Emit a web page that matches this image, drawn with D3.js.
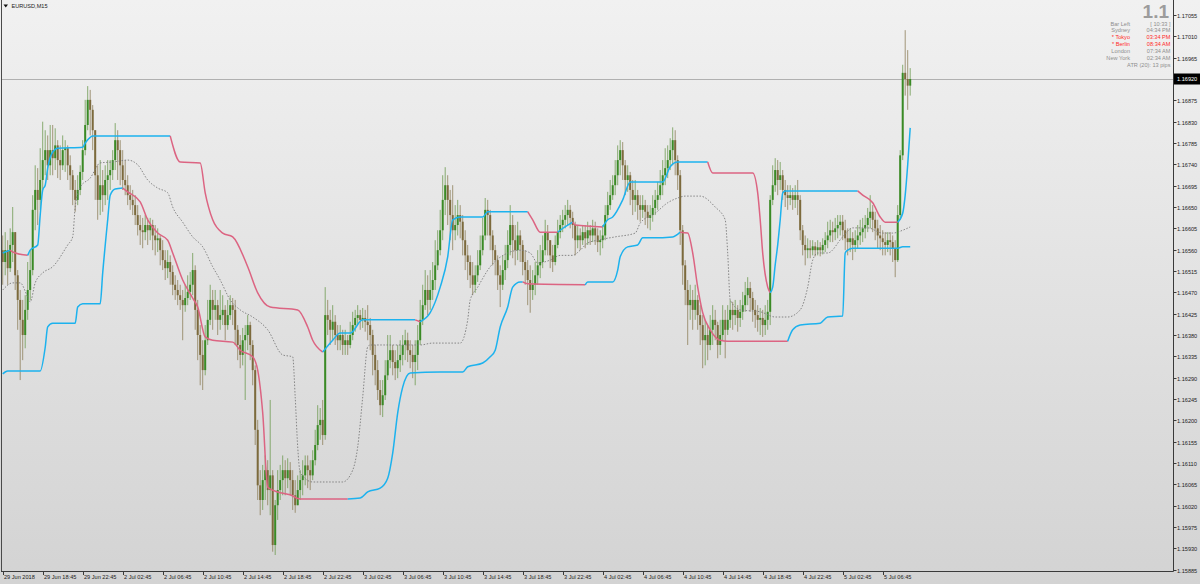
<!DOCTYPE html>
<html><head><meta charset="utf-8">
<script src="https://cdn.jsdelivr.net/npm/d3@7"></script>
<style>html,body{margin:0;padding:0;overflow:hidden;background:#e4e4e4}svg{display:block}text{font-family:"Liberation Sans",Arial,sans-serif}</style>
</head><body><svg id="c" width="1200" height="584"></svg>
<script>
// ---------------- data ----------------
const symbolTitle = "EURUSD,M15";
const firstOpen = 1.16559;
const closes = [
1.16534,1.16559,1.16521,1.16570,1.16597,1.16506,1.16454,1.16412,1.16380,1.16433,
1.16475,1.16517,1.16644,1.16686,1.16665,1.16707,1.16749,1.16770,1.16738,1.16770,
1.16753,1.16780,1.16749,1.16738,1.16770,1.16774,1.16738,1.16717,1.16686,1.16665,
1.16686,1.16724,1.16770,1.16823,1.16876,1.16855,1.16812,1.16717,1.16665,1.16696,
1.16675,1.16707,1.16717,1.16728,1.16749,1.16791,1.16770,1.16738,1.16707,1.16696,
1.16675,1.16665,1.16654,1.16633,1.16612,1.16601,1.16597,1.16612,1.16601,1.16612,
1.16590,1.16580,1.16584,1.16559,1.16538,1.16521,1.16534,1.16513,1.16486,1.16475,
1.16464,1.16454,1.16443,1.16458,1.16471,1.16486,1.16517,1.16433,1.16380,1.16338,
1.16306,1.16369,1.16412,1.16454,1.16433,1.16443,1.16412,1.16422,1.16433,1.16401,
1.16422,1.16443,1.16433,1.16391,1.16359,1.16338,1.16369,1.16380,1.16401,1.16359,
1.16306,1.16180,1.16063,1.16032,1.16074,1.16095,1.16053,1.16084,1.15937,1.16021,
1.16053,1.16074,1.16095,1.16078,1.16095,1.16074,1.16042,1.16021,1.16053,1.16074,
1.16084,1.16105,1.16095,1.16084,1.16116,1.16148,1.16190,1.16201,1.16169,1.16422,
1.16412,1.16391,1.16408,1.16380,1.16369,1.16380,1.16359,1.16369,1.16359,1.16380,
1.16401,1.16416,1.16422,1.16412,1.16416,1.16408,1.16401,1.16380,1.16338,1.16306,
1.16264,1.16232,1.16253,1.16295,1.16327,1.16348,1.16323,1.16310,1.16327,1.16338,
1.16359,1.16369,1.16348,1.16338,1.16323,1.16338,1.16369,1.16412,1.16443,1.16475,
1.16454,1.16475,1.16496,1.16527,1.16559,1.16601,1.16665,1.16696,1.16665,1.16633,
1.16601,1.16612,1.16633,1.16619,1.16580,1.16548,1.16534,1.16506,1.16486,1.16506,
1.16527,1.16559,1.16590,1.16644,1.16633,1.16590,1.16559,1.16538,1.16506,1.16486,
1.16517,1.16538,1.16570,1.16612,1.16580,1.16559,1.16590,1.16570,1.16534,1.16517,
1.16496,1.16475,1.16486,1.16506,1.16527,1.16534,1.16559,1.16597,1.16580,1.16548,
1.16534,1.16570,1.16597,1.16612,1.16623,1.16633,1.16644,1.16627,1.16612,1.16580,
1.16590,1.16580,1.16597,1.16584,1.16601,1.16590,1.16605,1.16590,1.16576,1.16580,
1.16590,1.16633,1.16654,1.16675,1.16696,1.16717,1.16749,1.16770,1.16738,1.16707,
1.16717,1.16686,1.16665,1.16675,1.16654,1.16644,1.16654,1.16640,1.16627,1.16633,
1.16648,1.16665,1.16675,1.16696,1.16717,1.16732,1.16749,1.16770,1.16791,1.16749,
1.16717,1.16601,1.16527,1.16475,1.16443,1.16454,1.16433,1.16454,1.16422,1.16401,
1.16369,1.16380,1.16359,1.16391,1.16412,1.16401,1.16359,1.16380,1.16412,1.16391,
1.16412,1.16433,1.16422,1.16433,1.16416,1.16429,1.16443,1.16464,1.16479,1.16458,
1.16433,1.16422,1.16412,1.16416,1.16401,1.16412,1.16429,1.16665,1.16696,1.16728,
1.16707,1.16717,1.16686,1.16675,1.16669,1.16675,1.16665,1.16675,1.16665,1.16601,
1.16570,1.16559,1.16563,1.16559,1.16567,1.16559,1.16565,1.16559,1.16570,1.16580,
1.16590,1.16601,1.16597,1.16605,1.16612,1.16619,1.16601,1.16584,1.16576,1.16584,
1.16570,1.16580,1.16590,1.16597,1.16605,1.16612,1.16627,1.16640,1.16623,1.16605,
1.16590,1.16584,1.16576,1.16570,1.16580,1.16576,1.16563,1.16538,1.16633,1.16759,
1.16933,1.16920,1.16906,1.16920];
const highs = [
1.16590,1.16597,1.16580,1.16605,1.16650,1.16597,1.16517,1.16475,1.16454,1.16464,
1.16534,1.16559,1.16675,1.16738,1.16732,1.16774,1.16830,1.16812,1.16801,1.16823,
1.16823,1.16816,1.16791,1.16780,1.16801,1.16791,1.16780,1.16759,1.16728,1.16707,
1.16717,1.16738,1.16791,1.16876,1.16905,1.16897,1.16865,1.16812,1.16738,1.16749,
1.16728,1.16738,1.16749,1.16749,1.16770,1.16827,1.16812,1.16791,1.16770,1.16749,
1.16717,1.16696,1.16686,1.16675,1.16654,1.16633,1.16627,1.16633,1.16627,1.16627,
1.16623,1.16612,1.16605,1.16590,1.16580,1.16559,1.16559,1.16548,1.16527,1.16506,
1.16496,1.16486,1.16475,1.16486,1.16506,1.16513,1.16553,1.16527,1.16454,1.16401,
1.16369,1.16401,1.16454,1.16486,1.16475,1.16475,1.16454,1.16475,1.16464,1.16443,
1.16454,1.16464,1.16458,1.16454,1.16401,1.16380,1.16395,1.16401,1.16422,1.16408,
1.16369,1.16316,1.16201,1.16095,1.16106,1.16126,1.16116,1.16243,1.16095,1.16032,
1.16095,1.16106,1.16126,1.16116,1.16120,1.16112,1.16095,1.16074,1.16084,1.16095,
1.16116,1.16126,1.16126,1.16116,1.16137,1.16180,1.16232,1.16226,1.16243,1.16481,
1.16454,1.16433,1.16443,1.16422,1.16401,1.16401,1.16391,1.16391,1.16380,1.16408,
1.16429,1.16433,1.16443,1.16433,1.16437,1.16433,1.16443,1.16416,1.16391,1.16359,
1.16327,1.16285,1.16285,1.16327,1.16380,1.16380,1.16359,1.16348,1.16359,1.16369,
1.16380,1.16391,1.16385,1.16369,1.16359,1.16369,1.16401,1.16454,1.16486,1.16517,
1.16506,1.16517,1.16534,1.16580,1.16601,1.16644,1.16717,1.16734,1.16717,1.16686,
1.16696,1.16654,1.16665,1.16654,1.16633,1.16601,1.16570,1.16548,1.16534,1.16527,
1.16559,1.16590,1.16627,1.16669,1.16665,1.16644,1.16601,1.16570,1.16548,1.16527,
1.16548,1.16570,1.16601,1.16654,1.16633,1.16612,1.16619,1.16601,1.16580,1.16559,
1.16538,1.16527,1.16517,1.16534,1.16559,1.16570,1.16590,1.16623,1.16612,1.16580,
1.16570,1.16590,1.16623,1.16633,1.16644,1.16654,1.16665,1.16654,1.16640,1.16619,
1.16612,1.16605,1.16612,1.16612,1.16619,1.16612,1.16623,1.16619,1.16605,1.16601,
1.16612,1.16654,1.16682,1.16707,1.16717,1.16749,1.16780,1.16791,1.16787,1.16749,
1.16738,1.16724,1.16707,1.16707,1.16686,1.16675,1.16675,1.16665,1.16654,1.16654,
1.16675,1.16686,1.16703,1.16728,1.16749,1.16774,1.16780,1.16795,1.16818,1.16812,
1.16759,1.16728,1.16612,1.16538,1.16496,1.16486,1.16475,1.16486,1.16464,1.16443,
1.16422,1.16412,1.16401,1.16422,1.16443,1.16433,1.16408,1.16412,1.16443,1.16433,
1.16443,1.16454,1.16450,1.16454,1.16443,1.16454,1.16471,1.16492,1.16502,1.16492,
1.16471,1.16454,1.16443,1.16437,1.16433,1.16443,1.16454,1.16675,1.16738,1.16753,
1.16749,1.16745,1.16728,1.16707,1.16696,1.16696,1.16690,1.16696,1.16707,1.16675,
1.16612,1.16590,1.16584,1.16580,1.16580,1.16576,1.16580,1.16576,1.16584,1.16597,
1.16619,1.16623,1.16619,1.16627,1.16633,1.16633,1.16633,1.16623,1.16605,1.16605,
1.16597,1.16601,1.16612,1.16623,1.16627,1.16633,1.16648,1.16675,1.16654,1.16640,
1.16623,1.16612,1.16601,1.16597,1.16597,1.16597,1.16590,1.16580,1.16654,1.16770,
1.16950,1.17023,1.16981,1.16943];
const lows = [
1.16486,1.16506,1.16486,1.16513,1.16534,1.16475,1.16391,1.16285,1.16327,1.16352,
1.16412,1.16454,1.16506,1.16601,1.16612,1.16644,1.16686,1.16717,1.16707,1.16717,
1.16717,1.16728,1.16711,1.16707,1.16728,1.16724,1.16707,1.16686,1.16654,1.16640,
1.16654,1.16675,1.16707,1.16759,1.16812,1.16801,1.16770,1.16665,1.16623,1.16633,
1.16640,1.16654,1.16665,1.16686,1.16707,1.16728,1.16707,1.16696,1.16686,1.16675,
1.16654,1.16644,1.16633,1.16612,1.16590,1.16570,1.16563,1.16580,1.16570,1.16580,
1.16559,1.16548,1.16555,1.16527,1.16517,1.16496,1.16500,1.16486,1.16464,1.16454,
1.16443,1.16433,1.16369,1.16429,1.16443,1.16454,1.16464,1.16391,1.16327,1.16274,
1.16264,1.16295,1.16359,1.16401,1.16391,1.16412,1.16380,1.16391,1.16401,1.16369,
1.16391,1.16412,1.16401,1.16359,1.16327,1.16310,1.16316,1.16243,1.16348,1.16327,
1.16274,1.16148,1.16032,1.16000,1.16011,1.16032,1.16021,1.16000,1.15923,1.15916,
1.15990,1.16032,1.16042,1.16042,1.16057,1.16042,1.16011,1.16005,1.16021,1.16032,
1.16042,1.16063,1.16057,1.16053,1.16074,1.16105,1.16137,1.16159,1.16148,1.16159,
1.16380,1.16359,1.16369,1.16359,1.16348,1.16348,1.16338,1.16338,1.16338,1.16352,
1.16369,1.16387,1.16401,1.16391,1.16395,1.16387,1.16369,1.16348,1.16295,1.16274,
1.16243,1.16211,1.16207,1.16243,1.16285,1.16310,1.16295,1.16285,1.16289,1.16302,
1.16316,1.16327,1.16323,1.16310,1.16289,1.16274,1.16306,1.16359,1.16401,1.16433,
1.16422,1.16433,1.16454,1.16475,1.16517,1.16548,1.16580,1.16633,1.16612,1.16580,
1.16559,1.16580,1.16590,1.16584,1.16548,1.16517,1.16496,1.16479,1.16464,1.16469,
1.16492,1.16517,1.16548,1.16580,1.16590,1.16559,1.16527,1.16506,1.16475,1.16439,
1.16475,1.16496,1.16521,1.16548,1.16542,1.16527,1.16538,1.16534,1.16506,1.16486,
1.16443,1.16427,1.16454,1.16464,1.16486,1.16500,1.16521,1.16548,1.16548,1.16521,
1.16513,1.16527,1.16563,1.16584,1.16597,1.16605,1.16612,1.16605,1.16584,1.16548,
1.16563,1.16559,1.16570,1.16563,1.16570,1.16570,1.16576,1.16570,1.16555,1.16548,
1.16563,1.16580,1.16623,1.16644,1.16665,1.16675,1.16696,1.16717,1.16707,1.16675,
1.16682,1.16654,1.16633,1.16640,1.16623,1.16619,1.16627,1.16612,1.16605,1.16601,
1.16619,1.16633,1.16644,1.16665,1.16675,1.16696,1.16711,1.16728,1.16738,1.16717,
1.16686,1.16570,1.16486,1.16443,1.16359,1.16412,1.16391,1.16412,1.16391,1.16359,
1.16310,1.16316,1.16327,1.16348,1.16359,1.16369,1.16331,1.16338,1.16369,1.16331,
1.16380,1.16395,1.16391,1.16401,1.16387,1.16397,1.16412,1.16429,1.16443,1.16429,
1.16408,1.16395,1.16387,1.16380,1.16376,1.16380,1.16391,1.16401,1.16654,1.16682,
1.16675,1.16686,1.16665,1.16650,1.16644,1.16654,1.16644,1.16648,1.16633,1.16580,
1.16548,1.16527,1.16542,1.16542,1.16548,1.16546,1.16548,1.16546,1.16550,1.16555,
1.16563,1.16576,1.16576,1.16580,1.16584,1.16590,1.16580,1.16559,1.16548,1.16555,
1.16538,1.16555,1.16563,1.16570,1.16576,1.16584,1.16597,1.16605,1.16597,1.16580,
1.16563,1.16559,1.16548,1.16548,1.16555,1.16548,1.16534,1.16502,1.16534,1.16623,
1.16749,1.16885,1.16855,1.16885];

// indicator lines: [bar index, price]
const upperBand = [[0,1.16553],[3,1.16559],[4,1.16555],[10,1.16548],[11,1.16559],[14,1.16570],[15,1.16633],[16,1.16686],[17,1.16696],[18,1.16732],[20,1.16766],[22,1.16774],[32,1.16776],[33,1.16785],[35,1.16797],[36,1.16800],[67,1.16800],[71,1.16745],[79,1.16743],[81,1.16680],[84,1.16623],[88,1.16595],[92,1.16587],[98,1.16524],[102,1.16469],[107,1.16439],[118,1.16433],[122,1.16397],[124,1.16369],[128,1.16344],[132,1.16369],[135,1.16384],[139,1.16384],[144,1.16412],[165,1.16412],[167,1.16408],[171,1.16427],[175,1.16481],[178,1.16545],[180,1.16623],[183,1.16629],[192,1.16629],[194,1.16640],[210,1.16640],[212,1.16623],[215,1.16597],[222,1.16597],[223,1.16601],[228,1.16618],[229,1.16612],[240,1.16608],[242,1.16623],[244,1.16629],[248,1.16665],[251,1.16703],[264,1.16703],[267,1.16735],[270,1.16745],[282,1.16745],[284,1.16722],[300,1.16722],[302,1.16680],[303,1.16623],[304,1.16553],[306,1.16481],[307,1.16469],[308,1.16481],[309,1.16528],[310,1.16570],[311,1.16623],[312,1.16680],[313,1.16684],[342,1.16684],[344,1.16675],[348,1.16659],[351,1.16629],[353,1.16618],[358,1.16618],[360,1.16637],[361,1.16675],[362,1.16739],[363,1.16817]];
const lowerBand = [[0,1.16298],[1,1.16302],[2,1.16304],[15,1.16304],[17,1.16354],[18,1.16397],[20,1.16405],[29,1.16405],[30,1.16439],[32,1.16446],[39,1.16446],[40,1.16511],[42,1.16623],[43,1.16675],[45,1.16688],[48,1.16690],[50,1.16682],[55,1.16661],[58,1.16623],[62,1.16595],[66,1.16580],[68,1.16553],[72,1.16496],[76,1.16458],[78,1.16439],[81,1.16376],[84,1.16369],[92,1.16365],[95,1.16348],[100,1.16334],[102,1.16306],[104,1.16216],[106,1.16059],[110,1.16049],[115,1.16043],[119,1.16034],[138,1.16034],[143,1.16036],[146,1.16049],[151,1.16057],[154,1.16078],[156,1.16131],[158,1.16216],[160,1.16270],[163,1.16300],[175,1.16302],[184,1.16302],[186,1.16313],[192,1.16321],[195,1.16334],[197,1.16348],[199,1.16397],[202,1.16439],[204,1.16481],[207,1.16492],[208,1.16492],[210,1.16488],[233,1.16486],[234,1.16492],[244,1.16492],[246,1.16517],[247,1.16545],[250,1.16566],[254,1.16570],[256,1.16585],[260,1.16585],[268,1.16587],[271,1.16597],[274,1.16595],[276,1.16553],[278,1.16481],[280,1.16427],[283,1.16391],[287,1.16369],[290,1.16367],[314,1.16367],[316,1.16391],[319,1.16401],[327,1.16405],[330,1.16418],[336,1.16420],[337,1.16553],[338,1.16559],[340,1.16563],[358,1.16563],[360,1.16566],[363,1.16566]];
const midLine = [[0,1.16475],[4,1.16490],[7,1.16490],[10,1.16460],[11,1.16450],[13,1.16490],[16,1.16511],[20,1.16524],[26,1.16570],[28,1.16587],[29,1.16650],[31,1.16692],[35,1.16711],[39,1.16743],[44,1.16745],[50,1.16749],[54,1.16739],[58,1.16707],[62,1.16690],[66,1.16680],[68,1.16650],[72,1.16618],[76,1.16587],[80,1.16566],[84,1.16524],[87,1.16496],[91,1.16454],[95,1.16433],[100,1.16418],[106,1.16391],[112,1.16338],[116,1.16334],[117,1.16249],[118,1.16144],[119,1.16090],[124,1.16070],[136,1.16070],[140,1.16095],[142,1.16144],[144,1.16249],[146,1.16355],[147,1.16359],[167,1.16359],[172,1.16363],[183,1.16363],[186,1.16412],[187,1.16454],[190,1.16481],[195,1.16524],[202,1.16553],[207,1.16559],[211,1.16553],[214,1.16532],[219,1.16538],[223,1.16548],[228,1.16548],[231,1.16559],[234,1.16574],[238,1.16580],[245,1.16587],[253,1.16595],[255,1.16616],[261,1.16637],[266,1.16659],[270,1.16669],[273,1.16673],[279,1.16673],[285,1.16650],[289,1.16623],[290,1.16553],[291,1.16454],[295,1.16433],[303,1.16429],[309,1.16418],[314,1.16418],[319,1.16433],[322,1.16481],[324,1.16538],[326,1.16553],[330,1.16553],[336,1.16587],[340,1.16606],[346,1.16606],[352,1.16595],[356,1.16595],[360,1.16601],[363,1.16608]];

const timeLabels = ["29 Jun 2018","29 Jun 18:45","29 Jun 22:45","2 Jul 02:45","2 Jul 06:45","2 Jul 10:45","2 Jul 14:45","2 Jul 18:45","2 Jul 22:45","3 Jul 02:45","3 Jul 06:45","3 Jul 10:45","3 Jul 14:45","3 Jul 18:45","3 Jul 22:45","4 Jul 02:45","4 Jul 06:45","4 Jul 10:45","4 Jul 14:45","4 Jul 18:45","4 Jul 22:45","5 Jul 02:45","5 Jul 06:45"];
const barsPerTimeLabel = 16;
const priceTicks = [1.17055,1.17010,1.16965,1.16920,1.16875,1.16830,1.16785,1.16740,1.16695,1.16650,1.16605,1.16560,1.16515,1.16470,1.16425,1.16380,1.16335,1.16290,1.16245,1.16200,1.16155,1.16110,1.16065,1.16020,1.15975,1.15930,1.15885];
const currentPrice = 1.16920;
const bigInfo = "1.1";
const infoRows = [["Bar Left","[ 10:33 ]",false],["Sydney","04:34 PM",false],["* Tokyo","03:34 PM",true],["* Berlin","08:34 AM",true],["London","07:34 AM",false],["New York","02:34 AM",false]];
const atrText = "ATR (20): 13 pips";

// ---------------- drawing ----------------
const W = 1200, H = 584;
const plotRight = 1173.5, plotBottom = 571.5;
const svg = d3.select("#c");
const defs = svg.append("defs");
const grad = defs.append("linearGradient").attr("id","bg").attr("x1",0).attr("y1",0).attr("x2",0).attr("y2",1);
grad.append("stop").attr("offset","0%").attr("stop-color","#f1f1f1");
grad.append("stop").attr("offset","100%").attr("stop-color","#d3d3d3");
svg.append("rect").attr("width",W).attr("height",H).attr("fill","url(#bg)");

const n = closes.length;
const x = d3.scaleLinear().domain([0, n - 1]).range([2.7, 2.7 + 2.5 * (n - 1)]);
const y = d3.scaleLinear().domain([1.15885, 1.17055]).range([569.7, 15.0]);
const opens = closes.map((c, i) => i === 0 ? firstOpen : closes[i - 1]);

const BLUE = "#1cb2ee", PINK = "#dc6482";

const plot = svg.append("g");

// current price line
plot.append("line").attr("x1",2).attr("x2",plotRight).attr("y1",Math.round(y(currentPrice))+0.5).attr("y2",Math.round(y(currentPrice))+0.5)
  .attr("stroke","#b0b0b0").attr("stroke-width",1);

// candles
const cg = plot.append("g");
d3.range(n).forEach(i => {
  const xc = x(i);
  const up = closes[i] >= opens[i];
  cg.append("line").attr("x1",xc).attr("x2",xc).attr("y1",y(highs[i])).attr("y2",y(lows[i]))
    .attr("stroke", up ? "#6f9a52" : "#8d7f5a").attr("stroke-width",0.8);
  const y0 = y(Math.max(opens[i], closes[i])), y1 = y(Math.min(opens[i], closes[i]));
  cg.append("rect").attr("x",xc-1).attr("width",2).attr("y",y0).attr("height",Math.max(0.8,y1-y0))
    .attr("fill", up ? "#3a8a25" : "#7c6a3c");
});

// dotted midline
const lineGen = d3.line().x(d => x(d[0])).y(d => y(d[1])).curve(d3.curveMonotoneX);
plot.append("path").attr("d", lineGen(midLine)).attr("fill","none").attr("stroke","#7a7a7a")
  .attr("stroke-width",0.9).attr("stroke-dasharray","1.5,1.6");

function drawBand(pts) {
  let prev = BLUE;
  const cols = [];
  for (let k = 1; k < pts.length; k++) {
    const dv = pts[k][1] - pts[k-1][1];
    const c = dv > 0 ? BLUE : (dv < 0 ? PINK : prev);
    cols.push(c); prev = c;
  }
  const runs = [];
  let cur = {c: cols[0], p: [pts[0], pts[1]]};
  for (let k = 1; k < cols.length; k++) {
    if (cols[k] === cur.c) cur.p.push(pts[k+1]);
    else { runs.push(cur); cur = {c: cols[k], p: [pts[k], pts[k+1]]}; }
  }
  runs.push(cur);
  runs.forEach(r => plot.append("path").attr("d", lineGen(r.p)).attr("fill","none")
    .attr("stroke", r.c).attr("stroke-width",1.5).attr("stroke-linejoin","round"));
}
drawBand(upperBand);
drawBand(lowerBand);

// frame
svg.append("line").attr("x1",1.5).attr("x2",1.5).attr("y1",0).attr("y2",plotBottom).attr("stroke","#4a4a4a");
svg.append("line").attr("x1",1).attr("x2",plotRight).attr("y1",plotBottom).attr("y2",plotBottom).attr("stroke","#3a3a3a");
svg.append("line").attr("x1",plotRight).attr("x2",plotRight).attr("y1",0).attr("y2",plotBottom).attr("stroke","#3a3a3a");

const FS = 5.6;
// price axis
priceTicks.forEach(p => {
  const yy = Math.round(y(p)) + 0.5;
  svg.append("line").attr("x1",plotRight).attr("x2",plotRight+3).attr("y1",yy).attr("y2",yy).attr("stroke","#3a3a3a");
  svg.append("text").attr("x",1177).attr("y",yy+2).attr("font-size",FS).attr("fill","#222").text(p.toFixed(5));
});
// current price box
const cy = y(currentPrice);
svg.append("rect").attr("x",1174).attr("y",cy-5.5).attr("width",26).attr("height",11).attr("fill","#000");
svg.append("text").attr("x",1177).attr("y",cy+2).attr("font-size",FS).attr("fill","#fff").text(currentPrice.toFixed(5));

// time axis
timeLabels.forEach((t, k) => {
  const xx = Math.round(x(k * barsPerTimeLabel)) + 0.5;
  svg.append("line").attr("x1",xx).attr("x2",xx).attr("y1",plotBottom).attr("y2",plotBottom+3.5).attr("stroke","#3a3a3a");
  svg.append("text").attr("x",xx+0.5).attr("y",578.5).attr("font-size",FS).attr("fill","#222").text(t);
});

// title
svg.append("path").attr("d","M3.5,4.5 L8,4.5 L5.75,7.5 Z").attr("fill","#111");
svg.append("text").attr("x",11.5).attr("y",8).attr("font-size",FS).attr("fill","#222").text(symbolTitle);

// info panel
svg.append("text").attr("x",1169).attr("y",18).attr("text-anchor","end").attr("font-size",19).attr("font-weight","bold").attr("fill","#9c9c9c").text(bigInfo);
infoRows.forEach((r, k) => {
  const yy = 25.5 + k * 6.9;
  const col = r[2] ? "#ff2a2a" : "#8e8e8e";
  svg.append("text").attr("x",1130).attr("y",yy).attr("text-anchor","end").attr("font-size",FS).attr("fill",col).text(r[0]);
  svg.append("text").attr("x",1170.5).attr("y",yy).attr("text-anchor","end").attr("font-size",FS).attr("fill",col).text(r[1]);
});
svg.append("text").attr("x",1170.5).attr("y",25.5 + 6 * 6.9).attr("text-anchor","end").attr("font-size",FS).attr("fill","#8e8e8e").text(atrText);
</script></body></html>
